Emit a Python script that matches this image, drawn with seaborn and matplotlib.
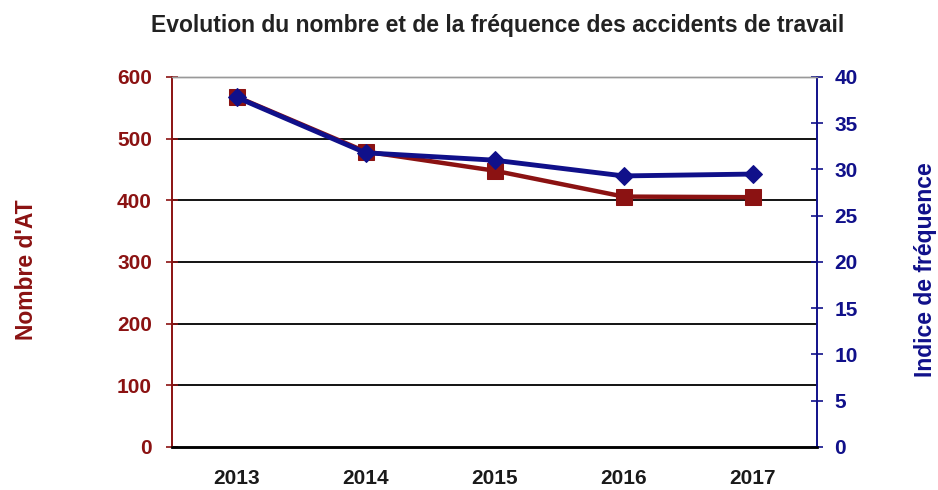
import matplotlib
matplotlib.use("Agg")
import matplotlib.pyplot as plt
import seaborn as sns
import pandas as pd

annees = ["2013", "2014", "2015", "2016", "2017"]
nombre_at = [568, 479, 448, 406, 405]
indice_frequence = [37.8, 31.8, 31.0, 29.3, 29.5]

rouge = "#8b1212"
bleu = "#10108a"

sns.set_style("white")
plt.rcParams["font.family"] = ["Liberation Sans", "DejaVu Sans"]
plt.rcParams["font.weight"] = "bold"

df = pd.DataFrame({"annee": annees, "nb": nombre_at, "indice": indice_frequence})

fig = plt.figure(figsize=(9.38, 4.9), dpi=100)
ax = fig.add_axes([0.1834, 0.0878, 0.6876, 0.7552])
ax2 = ax.twinx()

sns.lineplot(data=df, x="annee", y="nb", ax=ax, color=rouge, lw=3.2,
             marker="s", markersize=11, markeredgecolor=rouge, sort=False)
sns.lineplot(data=df, x="annee", y="indice", ax=ax2, color=bleu, lw=3.5,
             marker="D", markersize=9, markeredgecolor=bleu, sort=False)

ax.set_xlim(-0.5, 4.5)
ax.set_ylim(0, 600)
ax2.set_ylim(0, 40)
ax.set_yticks(range(0, 601, 100))
ax2.set_yticks(range(0, 41, 5))

# horizontal grid lines
for v in range(100, 600, 100):
    ax.axhline(v, color="black", lw=1.3, zorder=0)

# x ticks between categories, labels at centers
ax.set_xticks(range(len(annees)))
ax.set_xticklabels(annees, fontsize=15, fontweight="bold")
ax.set_xticks([i - 0.5 for i in range(len(annees) + 1)], minor=True)
ax.tick_params(axis="x", which="major", length=0, pad=16, labelcolor="#1a1a1a")
ax.tick_params(axis="x", which="minor", length=9, direction="inout", width=1.2, color="black")

ax.tick_params(axis="y", length=9, direction="inout", width=1.2, color=rouge,
               labelcolor=rouge, labelsize=15, pad=10)
ax2.tick_params(axis="y", length=9, direction="inout", width=1.2, color=bleu,
                labelcolor=bleu, labelsize=15, pad=8)
for lbl in ax.get_yticklabels() + ax2.get_yticklabels():
    lbl.set_fontweight("bold")

for a in (ax, ax2):
    a.spines["left"].set_color(rouge)
    a.spines["left"].set_linewidth(1.2)
    a.spines["right"].set_color(bleu)
    a.spines["right"].set_linewidth(1.2)
    a.spines["bottom"].set_color("black")
    a.spines["bottom"].set_linewidth(1.8)
    a.spines["top"].set_color("#999999")
    a.spines["top"].set_linewidth(1)

ax.set_xlabel("")
ax.set_ylabel("")
ax2.set_ylabel("")
fig.text(0.028, 0.45, "Nombre d'AT", rotation=90, ha="center", va="center",
         color=rouge, fontsize=16.5, fontweight="bold")
fig.text(0.987, 0.45, "Indice de fréquence", rotation=90, ha="center", va="center",
         color=bleu, fontsize=16.5, fontweight="bold")
fig.text(0.53, 0.948, "Evolution du nombre et de la fréquence des accidents de travail",
         ha="center", va="center", color="#222222", fontsize=16.5, fontweight="bold")

fig.savefig("out.png", dpi=100)
